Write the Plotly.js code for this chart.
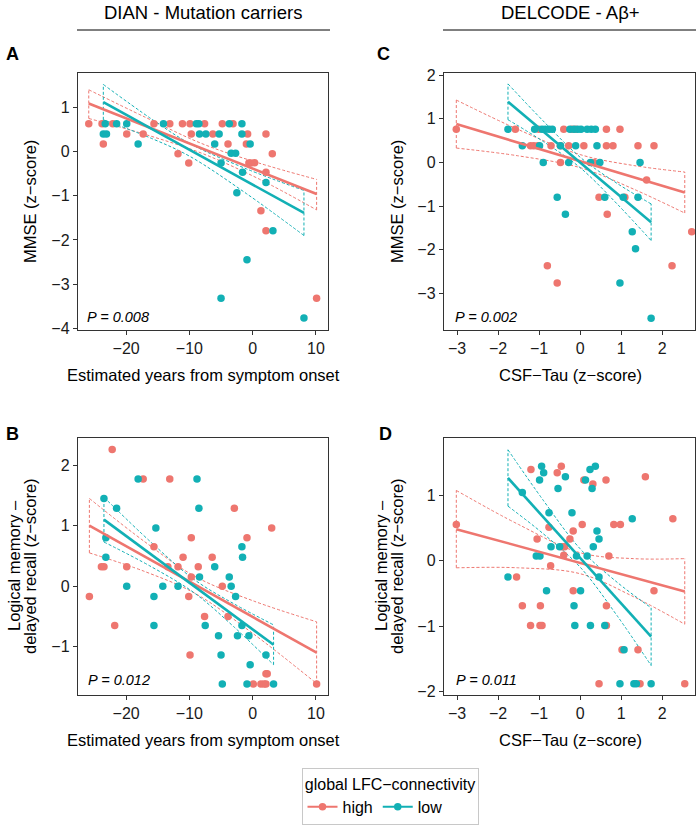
<!DOCTYPE html>
<html>
<head>
<meta charset="utf-8">
<script src="https://cdn.plot.ly/plotly-3.0.1.min.js"></script>
<style>html,body{margin:0;padding:0;background:#fff;}#chart{width:700px;height:837px;}</style>
</head>
<body>
<div id="chart"></div>
<script>
// ---------- DATA ----------
const groups = ["high", "low"];
const legendTitle = "global LFC\u2212connectivity";
const colTitles = ["DIAN - Mutation carriers", "DELCODE - A\u03b2+"];
const panelLetters = ["A", "C", "B", "D"];
const xTitles = ["Estimated years from symptom onset", "CSF\u2212Tau (z\u2212score)"];
const yTitleMMSE = "MMSE (z\u2212score)";
const yTitleLM1 = "Logical memory \u2013";
const yTitleLM2 = "delayed recall (z\u2212score)";
const pTexts = ["P = 0.008", "P = 0.002", "P = 0.012", "P = 0.011"];

// Panel A: DIAN, MMSE vs estimated years from onset
const A_high_x = [-25.9,-23.8,-23.6,-22.1,-19.9,-17.3,-15.6,-13.1,-11.8,-11.1,-10.1,-9.9,-9.7,-7.6,-6.3,-4.8,-3.9,-3.1,-1.0,-0.8,-0.6,-0.3,0.3,1.3,2.1,2.1,2.1,3.1,10.1];
const A_high_y = [0.63,0.63,0.17,0.63,0.40,0.40,0.63,0.63,-0.05,0.63,-0.26,0.63,0.40,0.63,0.40,0.63,0.17,0.63,0.17,0.40,-0.26,-0.26,-0.25,-1.34,0.40,-0.47,-1.79,-0.05,-3.32];
const A_low_x = [-23.6,-23.1,-23.3,-21.5,-19.9,-18.1,-14.1,-8.9,-8.5,-8.4,-7.4,-6.0,-5.3,-5.0,-5.0,-3.7,-3.4,-2.7,-2.5,-1.7,-1.7,-1.6,-0.9,-0.4,2.1,3.2,8.1];
const A_low_y = [0.40,0.40,0.63,0.63,0.63,0.17,0.63,0.63,0.63,0.40,0.40,0.17,0.40,-0.26,-3.32,0.63,-0.04,-0.04,-0.93,0.63,0.40,-0.47,-2.45,0.17,-0.70,-1.79,-3.77];
const A_high_fit_x = [-25.9, 10.1], A_high_fit_y = [1.09, -0.96];
const A_low_fit_x = [-23.6, 8.1], A_low_fit_y = [1.12, -1.39];
const A_high_band_x = [-25.9,-17,-8,1,10.1];
const A_high_band_hi = [1.40,0.78,0.18,-0.26,-0.63];
const A_high_band_lo = [0.75,0.39,-0.04,-0.62,-1.32];
const A_low_band_x = [-23.6,-16,-9.9,-1,8.1];
const A_low_band_hi = [1.52,0.74,0.18,-0.39,-0.88];
const A_low_band_lo = [0.72,0.30,-0.11,-0.95,-1.90];

// Panel C: DELCODE, MMSE vs CSF-Tau
const C_high_x = [-3.02,-1.58,-1.21,-1.13,-1.03,-1.01,-0.80,-0.71,-0.56,-0.48,-0.48,-0.40,-0.28,-0.20,-0.11,0.09,0.33,0.46,0.64,0.64,0.66,0.80,0.97,1.09,1.41,1.62,1.80,2.24,2.72];
const C_high_y = [0.76,0.76,0.38,0.38,0.38,0.76,-2.37,0.38,-2.76,0,0.38,0.76,0.38,0.76,0.76,0.38,0,-0.80,0.76,0.38,-1.19,0.38,0.76,-0.80,0.38,-0.40,0.38,-2.37,-1.59];
const C_low_x = [-1.76,-1.41,-1.11,-0.99,-0.90,-0.93,-0.85,-0.76,-0.68,-0.56,-0.48,-0.36,-0.28,-0.25,-0.15,-0.06,0.02,0.17,0.27,0.37,-0.11,0.25,0.41,0.48,0.60,0.97,1.05,1.27,1.35,1.41,1.46,1.73];
const C_low_y = [0.76,0.38,0.76,0.38,0,0.76,0.76,0.76,0.76,-0.80,0.38,-1.19,0,0.76,0.76,0.76,0.76,0.76,0.76,0.76,0.38,0,0.38,0,-0.80,-2.76,-0.80,-1.59,-1.98,-0.80,0,-3.57];
const C_high_fit_x = [-3.02, 2.55], C_high_fit_y = [0.88, -0.69];
const C_low_fit_x = [-1.76, 1.73], C_low_fit_y = [1.39, -1.37];
const C_high_band_x = [-3.02,-1.5,0,1.3,2.55];
const C_high_band_hi = [1.43,0.75,0.18,-0.07,-0.22];
const C_high_band_lo = [0.33,0.15,-0.12,-0.61,-1.16];
const C_low_band_x = [-1.76,-0.9,0,0.9,1.73];
const C_low_band_hi = [1.80,0.95,0.12,-0.48,-0.95];
const C_low_band_lo = [0.98,0.48,-0.12,-0.95,-1.79];

// Panel B: DIAN, logical memory vs estimated years from onset
const B_high_x = [-25.8,-23.9,-23.5,-22.2,-21.8,-19.9,-17.3,-15.6,-13.1,-13.4,-11.8,-11.0,-10.1,-9.7,-9.7,-9.9,-8.6,-7.6,-6.4,-4.8,-3.9,-2.9,-0.9,0.1,1.3,1.8,2.1,2.3,2.1,3.0,10.1];
const B_high_y = [-0.17,0.32,0.32,2.26,-0.65,0.32,1.77,0.65,1.77,0.32,0.32,0.48,-0.17,0.80,0.15,-1.14,0.32,-0.50,0.48,0,-0.50,1.29,0.80,-1.62,-1.62,-1.62,-1.45,-1.45,-1.62,0.96,-1.62];
const B_low_x = [-23.5,-23.2,-23.2,-21.5,-19.9,-18.1,-15.3,-15.6,-15.6,-14.2,-11.8,-8.8,-8.5,-8.4,-7.5,-6.0,-5.4,-5.0,-4.8,-3.7,-3.4,-2.7,-2.4,-1.7,-1.6,-1.7,-0.9,-0.6,-0.4,2.1,3.3];
const B_low_y = [1.45,0.80,0.48,1.29,0,1.77,0.96,-0.17,-0.65,0,0,1.77,1.29,0.15,-0.65,0.32,-0.82,-1.14,-1.62,0.15,0,-0.17,-0.82,0.65,0.48,-0.65,-1.62,-0.82,-1.30,-1.14,-1.62];
const B_high_fit_x = [-25.8, 10.1], B_high_fit_y = [1.00, -1.10];
const B_low_fit_x = [-23.5, 3.3], B_low_fit_y = [1.10, -0.97];
const B_high_band_x = [-25.8,-17,-9.1,0,10.1];
const B_high_band_hi = [1.45,0.73,0.16,-0.24,-0.59];
const B_high_band_lo = [0.55,0.24,-0.12,-0.78,-1.61];
const B_low_band_x = [-23.5,-16,-9.25,-3,3.3];
const B_low_band_hi = [1.47,0.72,0.11,-0.29,-0.64];
const B_low_band_lo = [0.73,0.32,-0.11,-0.67,-1.30];

// Panel D: DELCODE, logical memory vs CSF-Tau
const D_high_x = [-3.02,-1.55,-1.41,-1.20,-1.21,-1.05,-0.98,-0.93,-0.97,-0.76,-0.72,-0.56,-0.46,-0.44,-0.38,-0.25,-0.17,-0.17,-0.40,0.05,0.09,0.31,0.46,0.63,0.64,0.64,0.70,0.82,0.98,1.02,1.41,1.46,1.59,1.80,2.26,2.55];
const D_high_y = [0.55,-0.25,-0.69,1.39,-0.99,0.33,-0.99,-0.99,-0.69,0.51,-0.08,1.34,1.44,0.21,0.21,0.33,0.45,-0.46,0.08,0.55,1.23,1.17,-1.88,1.23,-0.69,-0.99,0.07,0.55,0.55,-1.36,-1.36,-1.88,1.28,-0.46,0.64,-1.88];
const D_low_x = [-1.76,-1.41,-0.99,-0.94,-0.89,-1.07,-0.98,-0.82,-0.76,-0.71,-0.54,-0.50,-0.36,-0.20,-0.15,-0.13,-0.09,0.01,0.13,0.17,0.24,0.25,0.29,0.32,0.37,0.41,0.46,0.46,0.60,0.97,1.07,1.27,1.31,1.37,1.73];
const D_low_y = [-0.25,1.04,1.23,1.44,1.34,0.07,0.07,-0.46,0.73,0.21,1.10,0.21,1.28,0.73,-0.69,-0.99,0.07,-0.46,1.23,0.07,1.39,-0.99,1.10,0.21,1.44,0.45,0.33,-0.25,-0.99,-1.88,-1.36,0.64,-1.88,-1.88,-1.88];
const D_high_fit_x = [-3.02, 2.55], D_high_fit_y = [0.48, -0.47];
const D_low_fit_x = [-1.76, 1.73], D_low_fit_y = [1.26, -1.16];
const D_high_band_x = [-3.02,-1.5,0,1.3,2.55];
const D_high_band_hi = [1.07,0.55,0.12,0.03,0.03];
const D_high_band_lo = [-0.11,-0.11,-0.20,-0.55,-0.97];
const D_low_band_x = [-1.76,-0.9,0,0.9,1.73];
const D_low_band_hi = [1.69,0.92,0.18,-0.33,-0.72];
const D_low_band_lo = [0.83,0.41,-0.10,-0.84,-1.60];

// Tick values
const ticksYears = [-20,-10,0,10];
const ticksTau = [-3,-2,-1,0,1,2];
const ticksA_y = [-4,-3,-2,-1,0,1];
const ticksC_y = [-3,-2,-1,0,1,2];
const ticksB_y = [-1,0,1,2];
const ticksD_y = [-2,-1,0,1];

// ---------- STYLE / LAYOUT ----------
const W = 700, H = 837;
const COLORS = {high: "#EE766F", low: "#12B0B5"};
const FONT = "Liberation Sans, Arial, Helvetica, sans-serif";
const px = v => v / W;
const py = v => 1 - v / H;

const traces = [];
function addPanel(xa, ya, g, xs, ys, fx, fy, bx, bhi, blo) {
  const c = COLORS[g];
  const dash = {color: c, width: 1, dash: "3px,2px"};
  traces.push({x: bx, y: bhi, xaxis: xa, yaxis: ya, mode: "lines", line: Object.assign({shape: "spline"}, dash), hoverinfo: "skip", showlegend: false});
  traces.push({x: bx, y: blo, xaxis: xa, yaxis: ya, mode: "lines", line: Object.assign({shape: "spline"}, dash), hoverinfo: "skip", showlegend: false});
  const n = bx.length - 1;
  traces.push({x: [bx[0], bx[0], null, bx[n], bx[n]], y: [blo[0], bhi[0], null, blo[n], bhi[n]], xaxis: xa, yaxis: ya, mode: "lines", line: dash, hoverinfo: "skip", showlegend: false, connectgaps: false});
  return {points: {x: xs, y: ys, xaxis: xa, yaxis: ya, mode: "markers", marker: {color: c, size: 7.5}, cliponaxis: false, hoverinfo: "x+y", showlegend: false},
          fit: {x: fx, y: fy, xaxis: xa, yaxis: ya, mode: "lines", line: {color: c, width: 2.6}, hoverinfo: "skip", showlegend: false}};
}
const panels = [
  ["x", "y", [["high", A_high_x, A_high_y, A_high_fit_x, A_high_fit_y, A_high_band_x, A_high_band_hi, A_high_band_lo], ["low", A_low_x, A_low_y, A_low_fit_x, A_low_fit_y, A_low_band_x, A_low_band_hi, A_low_band_lo]]],
  ["x2", "y2", [["high", C_high_x, C_high_y, C_high_fit_x, C_high_fit_y, C_high_band_x, C_high_band_hi, C_high_band_lo], ["low", C_low_x, C_low_y, C_low_fit_x, C_low_fit_y, C_low_band_x, C_low_band_hi, C_low_band_lo]]],
  ["x3", "y3", [["high", B_high_x, B_high_y, B_high_fit_x, B_high_fit_y, B_high_band_x, B_high_band_hi, B_high_band_lo], ["low", B_low_x, B_low_y, B_low_fit_x, B_low_fit_y, B_low_band_x, B_low_band_hi, B_low_band_lo]]],
  ["x4", "y4", [["high", D_high_x, D_high_y, D_high_fit_x, D_high_fit_y, D_high_band_x, D_high_band_hi, D_high_band_lo], ["low", D_low_x, D_low_y, D_low_fit_x, D_low_fit_y, D_low_band_x, D_low_band_hi, D_low_band_lo]]]
];
const late = [];
panels.forEach(([xa, ya, gs]) => {
  const res = gs.map(g => addPanel(xa, ya, ...g));
  res.forEach(r => late.push(r.points));
  res.forEach(r => late.push(r.fit));
});
late.forEach(t => traces.push(t));
// legend entries
groups.forEach(g => traces.push({x: [null], y: [null], mode: "lines+markers", name: g, line: {color: COLORS[g], width: 2}, marker: {color: COLORS[g], size: 7.5}, showlegend: true, hoverinfo: "skip"}));

function axis(domain, range, tickvals, anchor) {
  return {domain: domain, range: range, tickvals: tickvals, anchor: anchor, showline: true, mirror: true,
    linecolor: "#333333", linewidth: 1.2, ticks: "outside", ticklen: 4, tickcolor: "#333333", tickwidth: 1,
    showgrid: false, zeroline: false, fixedrange: true,
    tickfont: {family: FONT, size: 16, color: "#1a1a1a"}};
}
const colL = [px(78), px(328)], colR = [px(444), px(695)];
const rowT = [py(330), py(73)], rowB = [py(695), py(438)];
const rangeYears = [-27.6, 11.9], rangeTau = [-3.32, 2.8];

const annotations = [];
function ann(text, x, y, opts) {
  annotations.push(Object.assign({text: text, x: px(x), y: py(y), xref: "paper", yref: "paper", showarrow: false,
    xanchor: "center", yanchor: "middle", font: {family: FONT, size: 16.5, color: "#000"}}, opts || {}));
}
// column headers
ann(colTitles[0], 203, 13, {font: {family: FONT, size: 18.5, color: "#000"}});
ann(colTitles[1], 570, 13, {font: {family: FONT, size: 18.5, color: "#000"}});
// panel letters
const letterPos = [[12, 54], [383, 54], [12, 434], [385, 434]];
panelLetters.forEach((l, i) => ann("<b>" + l + "</b>", letterPos[i][0], letterPos[i][1], {font: {family: FONT, size: 18, color: "#000"}}));
// x titles
ann(xTitles[0], 203, 375); ann(xTitles[1], 570, 375);
ann(xTitles[0], 203, 740); ann(xTitles[1], 570, 740);
// y titles
ann(yTitleMMSE, 30, 202, {textangle: -90});
ann(yTitleMMSE, 397, 202, {textangle: -90});
ann(yTitleLM1, 14, 566, {textangle: -90});
ann(yTitleLM2, 30, 566, {textangle: -90});
ann(yTitleLM1, 381, 566, {textangle: -90});
ann(yTitleLM2, 397, 566, {textangle: -90});
// P values
const pPos = [[85, 317], [453, 317], [86, 680], [454, 680]];
pTexts.forEach((t, i) => ann("<i>" + t + "</i>", pPos[i][0], pPos[i][1], {xanchor: "left", font: {family: FONT, size: 14.5, color: "#000"}}));

const shapes = [
  {type: "line", xref: "paper", yref: "paper", x0: px(77), x1: px(330), y0: py(30), y1: py(30), line: {color: "#000", width: 1}},
  {type: "line", xref: "paper", yref: "paper", x0: px(443), x1: px(696), y0: py(30), y1: py(30), line: {color: "#000", width: 1}}
];

const layout = {
  width: W, height: H, margin: {l: 0, r: 0, t: 0, b: 0},
  paper_bgcolor: "#fff", plot_bgcolor: "#fff",
  font: {family: FONT, color: "#000"},
  xaxis: axis(colL, rangeYears, ticksYears, "y"),
  yaxis: axis(rowT, [-4.04, 1.78], ticksA_y, "x"),
  xaxis2: axis(colR, rangeTau, ticksTau, "y2"),
  yaxis2: axis(rowT, [-3.84, 2.05], ticksC_y, "x2"),
  xaxis3: axis(colL, rangeYears, ticksYears, "y3"),
  yaxis3: axis(rowB, [-1.80, 2.45], ticksB_y, "x3"),
  xaxis4: axis(colR, rangeTau, ticksTau, "y4"),
  yaxis4: axis(rowB, [-2.05, 1.87], ticksD_y, "x4"),
  showlegend: true,
  legend: {orientation: "h", x: px(390), xanchor: "center", y: py(768), yanchor: "top",
    bgcolor: "#fff", bordercolor: "#c8c8c8", borderwidth: 1,
    font: {family: FONT, size: 16, color: "#000"},
    title: {text: legendTitle, side: "top center", font: {family: FONT, size: 16, color: "#000"}},
    itemwidth: 30},
  annotations: annotations, shapes: shapes
};
Plotly.newPlot("chart", traces, layout, {staticPlot: true, displayModeBar: false});
</script>
</body>
</html>
